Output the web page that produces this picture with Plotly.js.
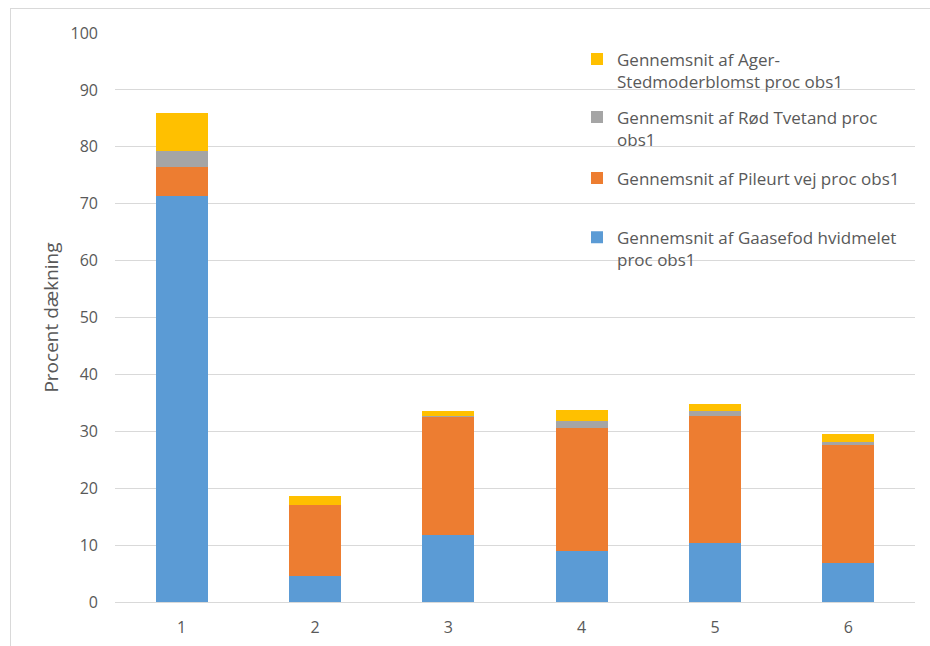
<!DOCTYPE html>
<html>
<head>
<meta charset="utf-8">
<script src="https://cdn.plot.ly/plotly-3.0.1.min.js"></script>
<style>
  html, body { margin: 0; padding: 0; background: #fff; }
  #wrap { position: relative; width: 930px; height: 646px; overflow: hidden; }
  #chart { width: 930px; height: 646px; }
  #frame { position: absolute; left: 10px; top: 8px; width: 930px; height: 660px;
           border-left: 1px solid #d9d9d9; border-top: 1px solid #d9d9d9; pointer-events: none; }
</style>
</head>
<body>
<div id="wrap">
  <div id="chart"></div>
  <div id="frame"></div>
</div>
<script>
const categories = ["1", "2", "3", "4", "5", "6"];
const gaasefod = [71.4, 4.6, 11.8, 8.9, 10.3, 6.9];
const pileurt  = [5.1, 12.5, 20.8, 21.6, 22.4, 20.7];
const roedTvetand = [2.7, 0.0, 0.1, 1.3, 0.9, 0.6];
const agerStedmoder = [6.7, 1.5, 0.8, 1.9, 1.2, 1.4];
const seriesNames = [
  "Gennemsnit af Gaasefod hvidmelet<br>proc obs1",
  "Gennemsnit af Pileurt vej proc obs1",
  "Gennemsnit af Rød Tvetand proc<br>obs1",
  "Gennemsnit af Ager-<br>Stedmoderblomst proc obs1"
];
const yTicks = [0, 10, 20, 30, 40, 50, 60, 70, 80, 90, 100];

const font = "Open Sans, Noto Sans, sans-serif";
const textColor = "#595959";

function bar(y, name, color, legendRef) {
  return {
    type: "bar", x: categories, y: y, name: name, legend: legendRef,
    marker: { color: color, line: { width: 0 } },
    hoverinfo: "y+name"
  };
}

const data = [
  bar(gaasefod, seriesNames[0], "#5B9BD5", "legend4"),
  bar(pileurt, seriesNames[1], "#ED7D31", "legend3"),
  bar(roedTvetand, seriesNames[2], "#A5A5A5", "legend2"),
  bar(agerStedmoder, seriesNames[3], "#FFC000", "legend")
];

function leg(y) {
  return {
    x: 0.5775, xanchor: "left", y: y, yanchor: "top",
    bgcolor: "rgba(0,0,0,0)", borderwidth: 0,
    font: { family: font, size: 17, color: textColor },
    valign: "top", itemwidth: 30, tracegroupgap: 0
  };
}

const layout = {
  width: 930, height: 646,
  margin: { l: 115, r: 15, t: 33, b: 44 },
  paper_bgcolor: "#fff", plot_bgcolor: "#fff",
  barmode: "stack", bargap: 0.61,
  showlegend: true,
  legend: leg(0.985),
  legend2: leg(0.883),
  legend3: leg(0.776),
  legend4: leg(0.672),
  xaxis: {
    type: "category", showgrid: false, zeroline: false,
    showline: false, ticks: "",
    tickfont: { family: font, size: 16, color: textColor },
    ticklabelstandoff: 14
  },
  yaxis: {
    range: [0, 100], tickvals: yTicks, ticktext: yTicks.map(String),
    showgrid: true, gridcolor: "#d9d9d9", gridwidth: 1,
    zeroline: true, zerolinecolor: "#d9d9d9", zerolinewidth: 1,
    showline: false, ticks: "",
    tickfont: { family: font, size: 16, color: textColor },
    ticklabelstandoff: 16,
    title: { text: "Procent dækning", font: { family: font, size: 19, color: textColor }, standoff: 6 }
  }
};

Plotly.newPlot("chart", data, layout, { displayModeBar: false, staticPlot: true });
</script>
</body>
</html>
